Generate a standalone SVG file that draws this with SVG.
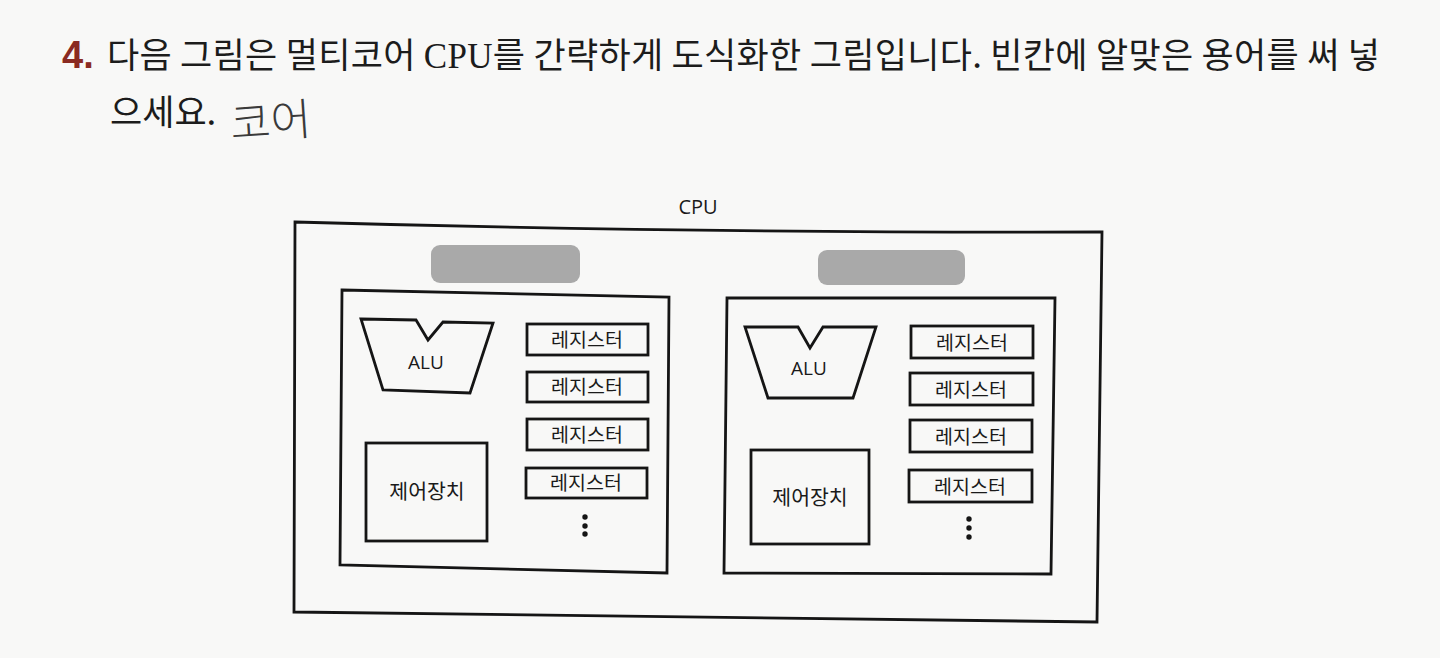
<svg xmlns="http://www.w3.org/2000/svg" width="1440" height="658" viewBox="0 0 1440 658">
<style>
.box{fill:none;stroke:#151515;stroke-width:2.8;stroke-linejoin:miter}
.blank{fill:#a9a9a9;stroke:none}
.reg{font-family:"Noto Sans CJK KR","Noto Sans",sans-serif;font-size:19.5px;fill:#1a1a1a;text-anchor:middle}
.lbl{font-family:"Open Sans","Noto Sans",sans-serif;font-size:19px;fill:#1a1a1a;text-anchor:middle}
.ctl{font-family:"Noto Sans CJK KR",sans-serif;font-size:20.5px;fill:#1a1a1a;text-anchor:middle}
.dot{fill:#151515}
.q{font-family:"Noto Sans CJK KR","Liberation Serif",sans-serif;font-size:35px;fill:#1c1c1c}
</style>
<rect x="0" y="0" width="1440" height="658" fill="#f8f8f7"/>
<g id="question">
<text x="62" y="68" font-family="Liberation Sans,sans-serif" font-weight="bold" font-size="38" fill="#8a2a22">4.</text>
<text class="q" x="107" y="68" textLength="1273" lengthAdjust="spacing">다음 그림은 멀티코어 <tspan font-family="Liberation Serif,serif">CPU</tspan>를 간략하게 도식화한 그림입니다. 빈칸에 알맞은 용어를 써 넣</text>
<text class="q" x="110" y="125">으세요.</text>
<text x="230" y="138" font-family="Noto Sans CJK KR,sans-serif" font-weight="300" font-size="44" fill="#3a3a3a" transform="rotate(-4 260 120)">코어</text>
</g>
<g id="cpu">
<text x="698" y="214" font-family="Open Sans,Noto Sans,sans-serif" font-size="20" fill="#1a1a1a" text-anchor="middle">CPU</text>
<path class="box" d="M295,222 Q680,233 1102,232 L1097,622 L294,612 Z"/>
</g>
<g id="core1">
<rect class="blank" x="431" y="245" width="149" height="38" rx="9"/>
<path class="box" d="M342,290 L669,297 L667,573 L340,565 Z"/>
<g id="core1-alu">
<polygon class="box" points="361,319 416,320 428,340 443,322 493,323 470,393 383,390"/>
<text class="lbl" x="426" y="369">ALU</text>
</g>
<g id="core1-regs">
<rect class="box" x="527" y="324" width="121" height="31"/><text class="reg" x="587" y="347">레지스터</text>
<rect class="box" x="527" y="372" width="121" height="30"/><text class="reg" x="587" y="394">레지스터</text>
<rect class="box" x="527" y="419" width="121" height="31"/><text class="reg" x="587" y="442">레지스터</text>
<rect class="box" x="526" y="468" width="121" height="30"/><text class="reg" x="586" y="490">레지스터</text>
<circle class="dot" cx="585" cy="517" r="2.7"/><circle class="dot" cx="585" cy="526" r="2.7"/><circle class="dot" cx="585" cy="534" r="2.7"/>
</g>
<g id="core1-control">
<rect class="box" x="366" y="443" width="121" height="98"/>
<text class="ctl" x="427" y="499">제어장치</text>
</g>
</g>
<g id="core2">
<rect class="blank" x="818" y="250" width="147" height="35" rx="9"/>
<path class="box" d="M727,298 L1055,298 L1051,574 L724,573 Z"/>
<g id="core2-alu">
<polygon class="box" points="745,327 798,327 810,348 823,327 876,327 853,398 768,398"/>
<text class="lbl" x="809" y="375">ALU</text>
</g>
<g id="core2-regs">
<rect class="box" x="911" y="326" width="122" height="32"/><text class="reg" x="972" y="350">레지스터</text>
<rect class="box" x="910" y="373" width="123" height="32"/><text class="reg" x="971" y="397">레지스터</text>
<rect class="box" x="910" y="420" width="122" height="32"/><text class="reg" x="971" y="444">레지스터</text>
<rect class="box" x="909" y="470" width="123" height="32"/><text class="reg" x="970" y="494">레지스터</text>
<circle class="dot" cx="969" cy="519" r="2.7"/><circle class="dot" cx="969" cy="528" r="2.7"/><circle class="dot" cx="969" cy="537" r="2.7"/>
</g>
<g id="core2-control">
<rect class="box" x="751" y="450" width="118" height="94"/>
<text class="ctl" x="810" y="505">제어장치</text>
</g>
</g>
<g id="connectors"/>
</svg>
